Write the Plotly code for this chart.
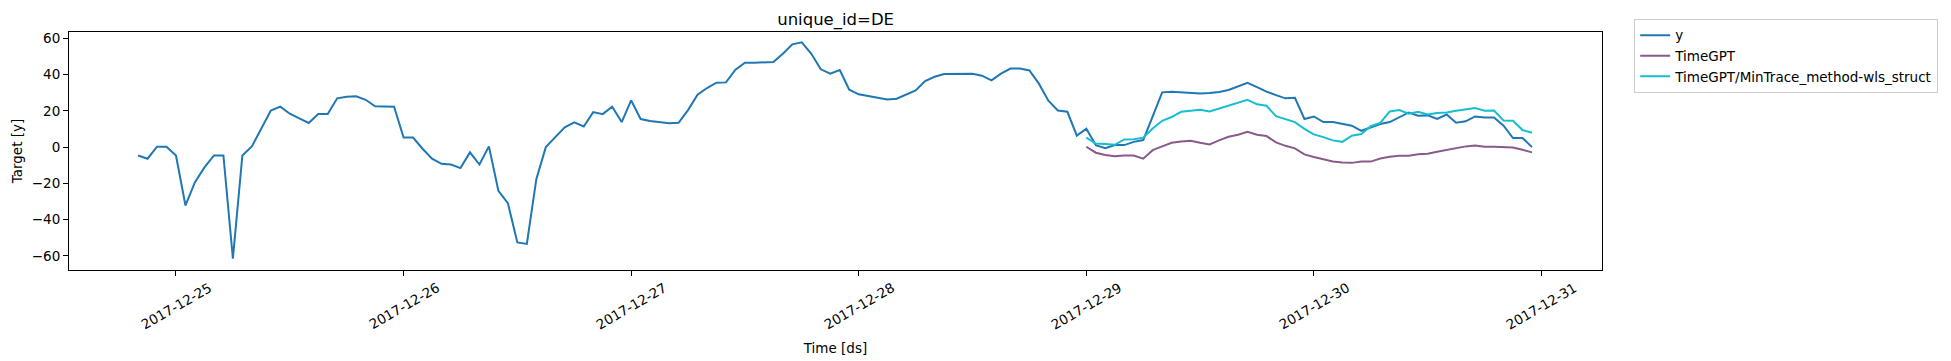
import pandas as pd
import plotly.graph_objects as go

# ---- data (hourly, DE) ----
start_time = "2017-12-24 20:00"
y_values = [
    -4.6, -6.4, 0.2, 0.2, -4.6, -32.2, -19.3, -11.2, -4.6, -4.6,
    -61.5, -4.6, 0.4, 10.3, 20.2, 22.3, 18.4, 15.8, 13.3, 18.2,
    18.2, 26.9, 27.8, 28.0, 26.1, 22.5, 22.5, 22.3, 5.3, 5.3,
    -0.9, -6.4, -9.2, -9.6, -11.6, -2.9, -9.6, 0.4, -24.1, -30.9,
    -52.6, -53.4, -17.7, 0.0, 5.5, 10.9, 13.6, 11.4, 19.3, 18.2,
    22.3, 13.8, 25.8, 15.5, 14.4, 13.8, 13.1, 13.4, 20.4, 28.9,
    32.6, 35.5, 35.7, 42.7, 46.6, 46.6, 46.8, 46.9, 51.5, 56.7,
    57.8, 51.5, 42.9, 40.5, 42.5, 31.7, 29.1, 28.2, 27.4, 26.3,
    26.7, 29.1, 31.3, 36.4, 38.8, 40.3, 40.3, 40.3, 40.5, 39.4,
    36.8, 40.5, 43.3, 43.3, 42.3, 35.0, 25.6, 20.2, 19.5, 6.3,
    10.1, 1.1, -0.6, 1.1, 1.1, 2.9, 3.9, 16.9, 30.2, 30.6,
    30.2, 29.8, 29.6, 29.8, 30.4, 31.5, 33.7, 35.5, 33.1, 30.6,
    28.7, 26.9, 27.2, 15.5, 16.9, 13.8, 13.8, 12.7, 11.8, 9.0,
    10.8, 12.7, 13.8, 16.4, 19.1, 17.3, 17.5, 15.6, 18.0, 13.4,
    14.2, 16.9, 16.4, 16.4, 11.8, 5.0, 5.0, 0.0,
]
timegpt_values = [
    0.2, -3.1, -4.4, -5.0, -4.6, -4.6, -6.4, -1.7, 0.4, 2.4,
    3.1, 3.5, 2.4, 1.5, 3.7, 5.7, 6.8, 8.5, 6.8, 6.1,
    2.6, 0.7, -0.7, -4.0, -5.5, -6.8, -7.9, -8.5, -8.7, -7.9,
    -8.0, -6.3, -5.3, -4.8, -4.8, -4.0, -3.7, -2.6, -1.5, -0.4,
    0.4, 0.9, 0.2, 0.2, -0.2, -0.2, -1.5, -2.9,
]
mintrace_values = [
    5.2, 2.0, 1.7, 1.3, 4.2, 4.4, 5.2, 10.3, 14.5, 16.6,
    19.5, 20.2, 20.6, 19.7, 21.2, 23.0, 24.3, 26.1, 23.6, 22.8,
    17.1, 15.5, 13.8, 10.1, 7.0, 5.5, 3.7, 2.9, 6.3, 7.2,
    11.5, 13.3, 19.7, 20.4, 18.4, 19.5, 18.0, 18.8, 19.1, 20.1,
    20.8, 21.5, 20.1, 20.2, 14.7, 14.5, 9.4, 7.9,
]
forecast_start = "2017-12-29 00:00"
tick_dates = ["2017-12-25", "2017-12-26", "2017-12-27", "2017-12-28",
              "2017-12-29", "2017-12-30", "2017-12-31"]
y_ticks = [-60, -40, -20, 0, 20, 40, 60]

ds = pd.date_range(start_time, periods=len(y_values), freq="h")
ds_fc = pd.date_range(forecast_start, periods=len(timegpt_values), freq="h")

FONT = "DejaVu Sans"
fig = go.Figure()
fig.add_trace(go.Scatter(x=ds, y=y_values, mode="lines", name="y",
                         line=dict(color="#1f77b4", width=2)))
fig.add_trace(go.Scatter(x=ds_fc, y=timegpt_values, mode="lines", name="TimeGPT",
                         line=dict(color="#8a5a8a", width=2)))
fig.add_trace(go.Scatter(x=ds_fc, y=mintrace_values, mode="lines",
                         name="TimeGPT/MinTrace_method-wls_struct",
                         line=dict(color="#17becf", width=2)))

for d in tick_dates:
    fig.add_annotation(x=d, xref="x", y=-0.151, yref="paper", text=d,
                       textangle=-30, showarrow=False, xanchor="center",
                       yanchor="middle", font=dict(family=FONT, size=13.5, color="black"))

fig.update_layout(
    width=1951, height=361,
    margin=dict(l=69, r=349, t=32, b=91),
    paper_bgcolor="white", plot_bgcolor="white",
    font=dict(family=FONT, size=13.5, color="black"),
    title=dict(text="unique_id=DE", x=0.4283, xanchor="center", y=1 - 19 / 361,
               yanchor="middle", yref="container", font=dict(size=16.5, family=FONT)),
    showlegend=True,
    legend=dict(x=1.021, y=1.055, xanchor="left", yanchor="top",
                bordercolor="#cccccc", borderwidth=1, bgcolor="white",
                font=dict(size=13.5, family=FONT), tracegroupgap=0),
    xaxis=dict(range=["2017-12-24 12:43", "2017-12-31 06:23"],
               tickvals=tick_dates, showticklabels=False, automargin=False,
               ticks="outside", ticklen=5, tickcolor="black",
               showline=True, mirror=True, linecolor="black", linewidth=1,
               showgrid=False, zeroline=False,
               title=dict(text="Time [ds]", standoff=68, font=dict(size=13.5))),
    yaxis=dict(range=[-67.8, 63.5], tickvals=y_ticks, automargin=False,
               ticks="outside", ticklen=5, tickcolor="black",
               showline=True, mirror=True, linecolor="black", linewidth=1,
               showgrid=False, zeroline=False,
               title=dict(text="Target [y]", standoff=6, font=dict(size=13.5))),
)
fig.write_html(
    "out.html",
    config={"displayModeBar": False},
    post_script="document.body.style.margin='0';document.body.style.overflow='hidden';",
)
